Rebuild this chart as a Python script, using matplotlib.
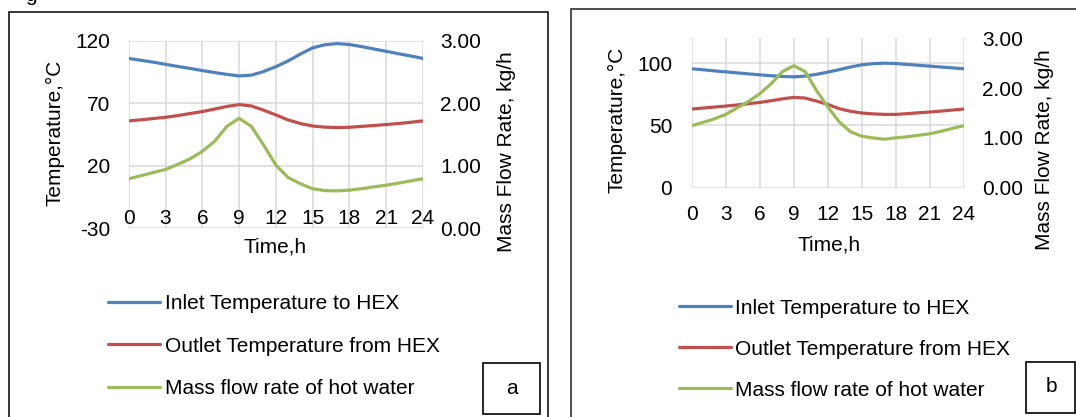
import matplotlib.pyplot as plt
from matplotlib.patches import Rectangle

plt.rcParams['font.family'] = ['Liberation Sans', 'DejaVu Sans']
plt.rcParams['axes.unicode_minus'] = False

# hourly values
hours = list(range(25))
time_ticks = list(range(0, 25, 3))

a_inlet = [106.0, 104.5, 103.0, 101.3, 99.6, 98.0, 96.3, 94.7, 93.2, 92.0, 92.6, 95.5,
           99.4, 104.0, 109.5, 114.5, 117.0, 117.9, 117.2, 115.5, 113.6, 111.7, 109.8, 108.0, 106.0]
a_outlet = [55.9, 56.8, 57.8, 58.8, 60.2, 61.8, 63.4, 65.4, 67.5, 69.0, 67.9, 64.5,
            60.7, 56.7, 53.8, 51.8, 50.9, 50.6, 50.8, 51.5, 52.2, 53.0, 53.8, 54.8, 55.9]
a_flow = [0.79, 0.84, 0.89, 0.94, 1.02, 1.11, 1.23, 1.39, 1.63, 1.76, 1.63, 1.33,
          1.01, 0.81, 0.71, 0.63, 0.60, 0.596, 0.607, 0.63, 0.66, 0.687, 0.72, 0.755, 0.79]

b_inlet = [95.5, 94.7, 93.8, 93.0, 92.2, 91.4, 90.6, 89.9, 89.3, 89.0, 89.6, 91.0,
           92.8, 94.8, 96.9, 98.7, 99.6, 100.0, 99.7, 99.0, 98.3, 97.6, 96.9, 96.2, 95.5]
b_outlet = [63.1, 63.9, 64.7, 65.5, 66.4, 67.4, 68.4, 69.8, 71.3, 72.5, 71.9, 69.5,
            66.8, 63.4, 61.3, 59.9, 59.2, 58.8, 58.8, 59.4, 60.1, 60.7, 61.5, 62.3, 63.1]
b_flow = [1.243, 1.31, 1.38, 1.47, 1.60, 1.73, 1.885, 2.086, 2.33, 2.45, 2.33, 1.95,
          1.62, 1.32, 1.12, 1.03, 0.996, 0.97, 1.0, 1.02, 1.05, 1.08, 1.13, 1.19, 1.243]

a_temp_ticks = [-30, 20, 70, 120]
b_temp_ticks = [0, 50, 100]
flow_ticks = [0, 1, 2, 3]
flow_labels = ['0.00', '1.00', '2.00', '3.00']

series_names = ['Inlet Temperature to HEX', 'Outlet Temperature from HEX',
                'Mass flow rate of hot water']
colors = ['#4F81BD', '#C0504D', '#9BBB59']

W, H = 1076, 417
fs = 15
fig = plt.figure(figsize=(W / 100, H / 100), dpi=100)


def fx(px):
    return px / W


def fy(py):
    return 1 - py / H


def panel(x0, x1, y0, y1, temp_lim, temp_ticks, inlet, outlet, flow, xpad, lpad, rpad):
    ax = fig.add_axes([fx(x0), fy(y1), fx(x1) - fx(x0), fy(y0) - fy(y1)])
    l1, = ax.plot(hours, inlet, color=colors[0], lw=2.3, solid_capstyle='round')
    l2, = ax.plot(hours, outlet, color=colors[1], lw=2.3, solid_capstyle='round')
    ax.set_xlim(0, 24)
    ax.set_ylim(*temp_lim)
    ax.set_xticks(time_ticks)
    ax.set_yticks(temp_ticks)
    ax.grid(True, color='#D9D9D9', lw=1.1)
    ax.set_axisbelow(True)
    for s in ax.spines.values():
        s.set_visible(False)
    ax.tick_params(axis='both', length=0, labelsize=fs)
    ax.tick_params(axis='x', pad=xpad)
    ax.tick_params(axis='y', pad=lpad)

    ax2 = ax.twinx()
    l3, = ax2.plot(hours, flow, color=colors[2], lw=2.3, solid_capstyle='round')
    ax2.set_ylim(0, 3)
    ax2.set_yticks(flow_ticks)
    ax2.set_yticklabels(flow_labels)
    for s in ax2.spines.values():
        s.set_visible(False)
    ax2.tick_params(axis='y', length=0, labelsize=fs, pad=rpad)
    return [l1, l2, l3]


lines_a = panel(128.8, 422.9, 41, 228, (-30, 120), a_temp_ticks,
                a_inlet, a_outlet, a_flow, -14, 13, 12.5)
lines_b = panel(691.7, 964, 38.3, 187.5, (0, 120), b_temp_ticks,
                b_inlet, b_outlet, b_flow, 12.5, 14, 13)

# axis titles
fig.text(fx(55), fy(133), 'Temperature,\u00b0C', rotation=90, ha='center', va='center', fontsize=fs)
fig.text(fx(506), fy(151.5), 'Mass Flow Rate, kg/h', rotation=90, ha='center', va='center', fontsize=fs)
fig.text(fx(275.5), fy(246.7), 'Time,h', ha='center', va='center', fontsize=fs)
fig.text(fx(617), fy(120), 'Temperature,\u00b0C', rotation=90, ha='center', va='center', fontsize=fs)
fig.text(fx(1044), fy(150), 'Mass Flow Rate, kg/h', rotation=90, ha='center', va='center', fontsize=fs)
fig.text(fx(829), fy(245), 'Time,h', ha='center', va='center', fontsize=fs)

# legends
for lines, lx, ly, sp in [(lines_a, 108, 294, 1.14), (lines_b, 678.5, 298.5, 1.06)]:
    fig.legend(lines, series_names, loc='upper left', bbox_to_anchor=(fx(lx), fy(ly)),
               frameon=False, fontsize=fs, handlelength=2.5, handletextpad=0.22,
               borderpad=0, borderaxespad=0, labelspacing=sp)

# panel frames
fig.add_artist(Rectangle((fx(9), fy(440)), fx(548) - fx(9), fy(11.5) - fy(440),
                         transform=fig.transFigure, fill=False, ec='black', lw=1.1))
fig.add_artist(Rectangle((fx(570.5), fy(440)), fx(1100) - fx(570.5), fy(9) - fy(440),
                         transform=fig.transFigure, fill=False, ec='#404040', lw=1.3))

# panel letters
fig.add_artist(Rectangle((fx(483), fy(414)), fx(540) - fx(483), fy(362.7) - fy(414),
                         transform=fig.transFigure, fill=False, ec='black', lw=1.2))
fig.text(fx(511.5), fy(388.5), 'a', ha='center', va='center', fontsize=fs)
fig.add_artist(Rectangle((fx(1026), fy(413)), fx(1075) - fx(1026), fy(361.7) - fy(413),
                         transform=fig.transFigure, fill=False, ec='black', lw=1.2))
fig.text(fx(1051), fy(386.5), 'b', ha='center', va='center', fontsize=fs)

# cut-off caption fragment at the top
fig.text(fx(31), fy(1), 'g', ha='center', va='baseline', fontsize=fs)

fig.savefig('out.png', dpi=100)
